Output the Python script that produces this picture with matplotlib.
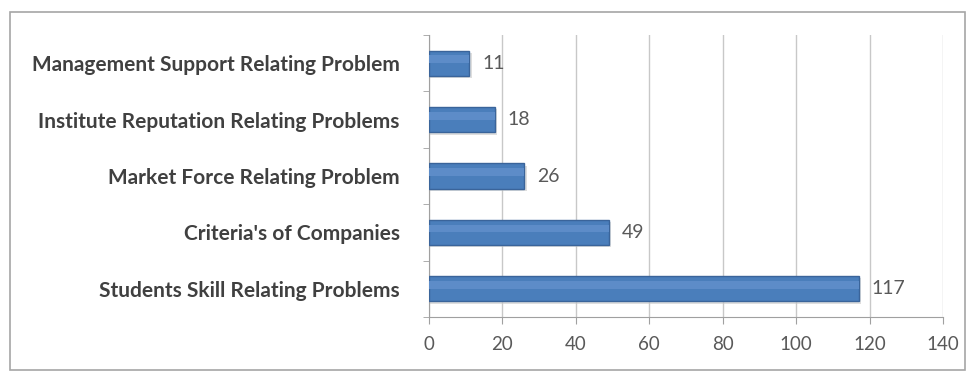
import matplotlib.pyplot as plt
from matplotlib.patches import Rectangle

categories = [
    "Students Skill Relating Problems",
    "Criteria's of Companies",
    "Market Force Relating Problem",
    "Institute Reputation Relating Problems",
    "Management Support Relating Problem",
]
values = [117, 49, 26, 18, 11]
xticks = [0, 20, 40, 60, 80, 100, 120, 140]

plt.rcParams['font.family'] = ['Lato', 'DejaVu Sans']

fig = plt.figure(figsize=(9.75, 3.76), dpi=100)
ax = fig.add_axes([429 / 975, 1 - 317 / 376, (943 - 429) / 975, (317 - 35) / 376])

# outer chart border
fig.patches.append(Rectangle((10 / 975, 6 / 376), 955 / 975, 358 / 376,
                             transform=fig.transFigure, fill=False,
                             edgecolor='#a6a6a6', linewidth=1.2))

pos = list(range(len(categories)))
# shadow then bar
ax.barh([p - 0.04 for p in pos], [v + 0.6 for v in values], height=0.45,
        color='#c8c8c8', alpha=0.6, zorder=2)
ax.barh(pos, values, height=0.45, color='#4a7ebb', edgecolor='#3a649a',
        linewidth=1, zorder=3)
ax.barh([p + 0.07 for p in pos], values, height=0.14, color='#5d8cc8',
        linewidth=0, zorder=4)

for p, v in zip(pos, values):
    ax.text(v + 3.5, p, str(v), va='center', ha='left', fontsize=14,
            color='#595959', zorder=5)

ax.set_xlim(0, 140)
ax.set_ylim(-0.5, len(categories) - 0.5)
ax.set_xticks(xticks)
ax.set_xticklabels([str(t) for t in xticks], fontsize=13.5, color='#595959')
ax.set_yticks(pos)
ax.set_yticklabels(categories, fontsize=15, fontweight='bold', color='#404040')
ax.tick_params(axis='y', length=0, pad=21)
ax.tick_params(axis='x', length=5, color='#a0a0a0', pad=9)
ax.set_yticks([p + 0.5 for p in range(-1, len(categories))], minor=True)
ax.tick_params(axis='y', which='minor', length=4, color='#a0a0a0')

ax.grid(axis='x', color='#c8c8c8', linewidth=1, zorder=0)
ax.set_axisbelow(True)
for s in ['top', 'right']:
    ax.spines[s].set_visible(False)
ax.spines['left'].set_color('#a0a0a0')
ax.spines['bottom'].set_color('#a0a0a0')

fig.savefig('out.png', dpi=100)
